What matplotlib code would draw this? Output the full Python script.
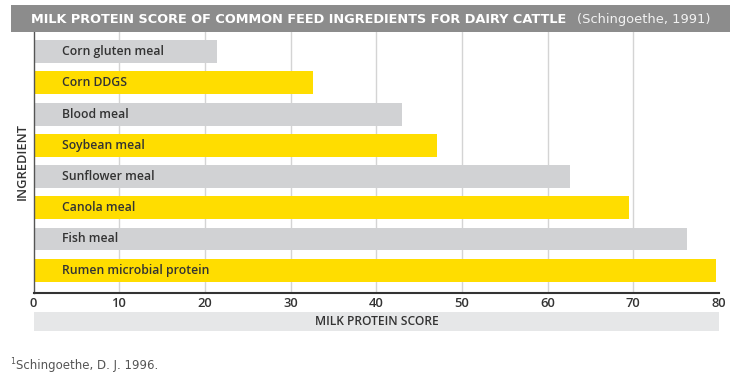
import matplotlib
matplotlib.use("Agg")
import matplotlib.pyplot as plt
from matplotlib.patches import Rectangle

categories = ["Corn gluten meal", "Corn DDGS", "Blood meal", "Soybean meal",
              "Sunflower meal", "Canola meal", "Fish meal", "Rumen microbial protein"]
scores = [21.4, 32.6, 43.0, 47.1, 62.6, 69.5, 76.3, 79.6]
bar_colors = ["#d1d2d4", "#ffdd00"] * 4
xticks = [0, 10, 20, 30, 40, 50, 60, 70, 80]

W, H = 737, 381
fig = plt.figure(figsize=(W / 100, H / 100), dpi=100)
fig.patch.set_facecolor("white")
renderer = fig.canvas.get_renderer()

FONT = ["Open Sans", "DejaVu Sans"]
TXT = "#333333"


def fit_size(text, target_px, **kw):
    t = fig.text(0, 0, text, fontsize=10, **kw)
    w = t.get_window_extent(renderer=renderer).width
    t.remove()
    return 10 * target_px / w


ax_left, ax_right = 33.5, 719
ax_top, ax_bot = 32, 292.7
ax = fig.add_axes([ax_left / W, 1 - ax_bot / H, (ax_right - ax_left) / W, (ax_bot - ax_top) / H])

ypos = list(range(len(categories)))
ax.barh(ypos, scores, height=0.73, color=bar_colors, zorder=2)
ax.set_xlim(0, 80)
ax.set_ylim(len(categories) - 1 + 0.72, -0.63)
for x in xticks[1:-1]:
    ax.axvline(x, color="#d4d4d4", lw=1.0, zorder=1)

lab_size = fit_size(categories[0], 102, fontweight="semibold", family=FONT)
for y, name in zip(ypos, categories):
    ax.text(3.3, y, name, va="center", ha="left", fontsize=lab_size, fontweight="semibold",
            color=TXT, family=FONT, zorder=3)

for s in ["top", "right"]:
    ax.spines[s].set_visible(False)
ax.spines["left"].set_color("#555555")
ax.spines["left"].set_linewidth(1.0)
ax.spines["bottom"].set_color("#333333")
ax.spines["bottom"].set_linewidth(1.5)
ax.set_yticks([])
ax.set_xticks(xticks)
tick_size = fit_size("80", 15, fontweight="semibold", family=FONT)
ax.set_xticklabels([str(v) for v in xticks], fontsize=tick_size, fontweight="semibold",
                   color=TXT, family=FONT)
ax.tick_params(axis="x", length=0, pad=3)

# Title bar
fig.patches.append(Rectangle((11 / W, 1 - 32 / H), (730 - 11) / W, 27 / H,
                             transform=fig.transFigure, facecolor="#8c8c8c",
                             edgecolor="none", zorder=0))
title_main = "MILK PROTEIN SCORE OF COMMON FEED INGREDIENTS FOR DAIRY CATTLE"
ts = fit_size(title_main, 540, fontweight="bold", family=["DejaVu Sans"])
fig.text(31 / W, 1 - 19.5 / H, title_main, color="white", fontsize=ts, fontweight="bold",
         family=["DejaVu Sans"], va="center", ha="left")
ss = fit_size("(Schingoethe, 1991)", 132, family=["DejaVu Sans"])
fig.text(576.7 / W, 1 - 19.5 / H, "(Schingoethe, 1991)", color="#f2f2f2",
         fontsize=ss, family=["DejaVu Sans"], va="center", ha="left")

# X label box
fig.patches.append(Rectangle((33.5 / W, 1 - 331 / H), (719 - 33.5) / W, 19 / H,
                             transform=fig.transFigure, facecolor="#e6e7e8",
                             edgecolor="none", zorder=0))
xs = fit_size("MILK PROTEIN SCORE", 124, fontweight="semibold", family=FONT)
fig.text(377 / W, 1 - 321.5 / H, "MILK PROTEIN SCORE", color=TXT, fontsize=xs,
         fontweight="semibold", family=FONT, ha="center", va="center")

# Y label
ys = fit_size("INGREDIENT", 77, fontweight="semibold", family=FONT)
fig.text(22.5 / W, 1 - 161.5 / H, "INGREDIENT", color=TXT, fontsize=ys, rotation=90,
         fontweight="semibold", family=FONT, ha="center", va="center")

# Footnote
fig.text(10 / W, 1 - 362 / H, "$^{1}$", color="#555555", fontsize=8, family=FONT,
         ha="left", va="center")
fig.text(16 / W, 1 - 366 / H, "Schingoethe, D. J. 1996.", color="#555555", fontsize=8.5,
         family=["Liberation Sans Narrow", "DejaVu Sans"], ha="left", va="center")

fig.savefig("out.png", dpi=100)
